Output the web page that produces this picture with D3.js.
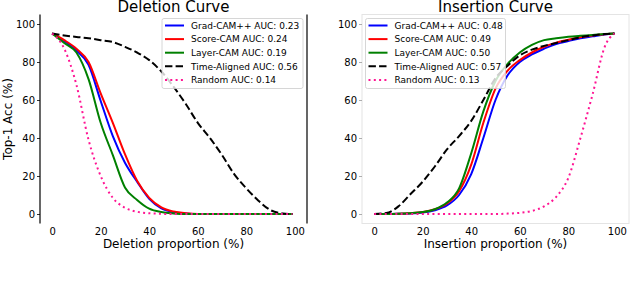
<!DOCTYPE html>
<html><head><meta charset="utf-8">
<script src="https://cdn.jsdelivr.net/npm/d3@7"></script>
<style>body{margin:0;background:#fff}svg{display:block}text{font-family:"DejaVu Sans",sans-serif}</style>
</head><body>
<svg id="c" width="630" height="282"></svg>
<script>
const xGrid = [0,5,10,15,20,25,30,35,40,45,50,55,60,65,70,75,80,85,90,95,99];
const yTicks = [0,20,40,60,80,100];
const xTicks = [0,20,40,60,80,100];

// Deletion curve
const delGrad  = [95,91,86,78.5,59.5,41,27,17,8,3,1,0.3,0,0,0,0,0,0,0,0,0];
const delScore = [95,91.5,87,80,63.5,48,31.5,17.5,8.5,3.5,1.3,0.4,0,0,0,0,0,0,0,0,0];
const delLayer = [95,90,85,71,48,31,14,7.4,2.8,1,0.3,0,0,0,0,0,0,0,0,0,0];
const delTime  = [95,94,93.2,92.5,91.5,90.5,88,85,81,75,67,58,48,40,31,21,13.5,7,2,0.3,0];
const delRand  = [95,87,68,39,20,8.5,3.3,1.2,0.4,0.1,0,0,0,0,0,0,0,0,0,0,0];
const delAUC = ["0.23","0.24","0.19","0.56","0.14"];

// Insertion curve
const insGrad  = [0,0,0.1,0.3,0.8,2,4.5,10,21,40,60,73,80,84,87,89.5,91,92.5,93.5,94.5,95];
const insScore = [0,0,0.1,0.4,1,2.5,5.5,12,26,48,66,75.5,81,85,88,90.2,91.7,93,94,94.6,95];
const insLayer = [0,0,0.1,0.4,1,2.5,6,13.5,32,54,70,79,85,89,91.5,92.5,93.3,93.8,94.2,94.7,95];
const insTime  = [0,0.5,4,10.5,17,25,34,41,49,60,71.5,78,83.5,86.5,88.5,90,91.5,93,94,94.7,95];
const insRand  = [0,0,0,0,0,0,0,0,0,0,0,0.2,0.6,1.6,4,9,19,40,63,88,95];
const insAUC = ["0.48","0.49","0.50","0.57","0.13"];

const methods = ["Grad-CAM++","Score-CAM","Layer-CAM","Time-Aligned","Random"];
const colors = ["#0000ff","#ff0000","#008000","#000000","#ff1493"];
const dashes = [null,null,null,"7.4,3.2","2,3.3"];

const svg = d3.select("#c");
const plotTop = 14.5, plotBottom = 223.5;

function panel(opts){
  const {x0,x1,title,xlabel,series,auc,frame,leg} = opts;
  const x = d3.scaleLinear().domain([-5,105]).range([x0,x1]);
  const y = d3.scaleLinear().domain([-5,105]).range([plotBottom,plotTop]);
  const g = svg.append("g");
  if(frame==="dark"){
    g.append("line").attr("x1",x0).attr("x2",x0).attr("y1",plotTop).attr("y2",plotBottom).attr("stroke","#000").attr("stroke-width",1.2);
    g.append("line").attr("x1",x1).attr("x2",x1).attr("y1",plotTop).attr("y2",plotBottom).attr("stroke","#000").attr("stroke-width",1.2);
  } else {
    g.append("rect").attr("x",x0).attr("y",plotTop).attr("width",x1-x0).attr("height",plotBottom-plotTop)
      .attr("fill","none").attr("stroke","#e4e4e4").attr("stroke-width",1);
  }
  const tickCol = frame==="dark" ? "#000" : "#999";
  const ya = g.append("g").attr("transform",`translate(${x0},0)`)
    .call(d3.axisLeft(y).tickValues(yTicks).tickSize(3).tickPadding(2));
  ya.select(".domain").remove();
  ya.selectAll("line").attr("stroke",tickCol).attr("stroke-width",0.8);
  ya.selectAll("text").attr("font-size",10).attr("fill","#000").attr("font-family","DejaVu Sans");
  const xa = g.append("g").attr("transform",`translate(0,${plotBottom})`)
    .call(d3.axisBottom(x).tickValues(xTicks).tickSize(0).tickPadding(4));
  xa.select(".domain").remove();
  xa.selectAll("text").attr("font-size",10).attr("fill","#000").attr("font-family","DejaVu Sans");
  g.append("text").attr("x",(x0+x1)/2).attr("y",12).attr("text-anchor","middle").attr("font-size",15).text(title);
  g.append("text").attr("x",(x0+x1)/2).attr("y",248).attr("text-anchor","middle").attr("font-size",12).text(xlabel);
  const line = d3.line().x((d,i)=>x(xGrid[i])).y(d=>y(d)).curve(d3.curveMonotoneX);
  series.forEach((s,i)=>{
    g.append("path").datum(s).attr("d",line).attr("fill","none")
      .attr("stroke",colors[i]).attr("stroke-width",2)
      .attr("stroke-dasharray",dashes[i]);
  });
  const lg = g.append("g");
  lg.append("rect").attr("x",leg.x).attr("y",leg.y).attr("width",leg.w).attr("height",leg.h)
    .attr("rx",2).attr("fill","#fff").attr("fill-opacity",0.8).attr("stroke","#cccccc").attr("stroke-width",0.8);
  methods.forEach((m,i)=>{
    const cy = leg.y + 7 + i*13.6;
    lg.append("line").attr("x1",leg.x+3).attr("x2",leg.x+22).attr("y1",cy).attr("y2",cy)
      .attr("stroke",colors[i]).attr("stroke-width",2).attr("stroke-dasharray",dashes[i]);
    lg.append("text").attr("x",leg.x+29).attr("y",cy+3.3).attr("font-size",9).text(`${m} AUC: ${auc[i]}`);
  });
}

panel({x0:40,x1:307,title:"Deletion Curve",xlabel:"Deletion proportion (%)",
  series:[delGrad,delScore,delLayer,delTime,delRand],auc:delAUC,frame:"dark",
  leg:{x:162,y:18.5,w:141,h:70}});
panel({x0:362,x1:629,title:"Insertion Curve",xlabel:"Insertion proportion (%)",
  series:[insGrad,insScore,insLayer,insTime,insRand],auc:insAUC,frame:"light",
  leg:{x:365.5,y:18.5,w:140,h:70}});

svg.append("text").attr("transform","translate(12,119) rotate(-90)").attr("text-anchor","middle")
  .attr("font-size",12).text("Top-1 Acc (%)");
</script>
</body></html>
